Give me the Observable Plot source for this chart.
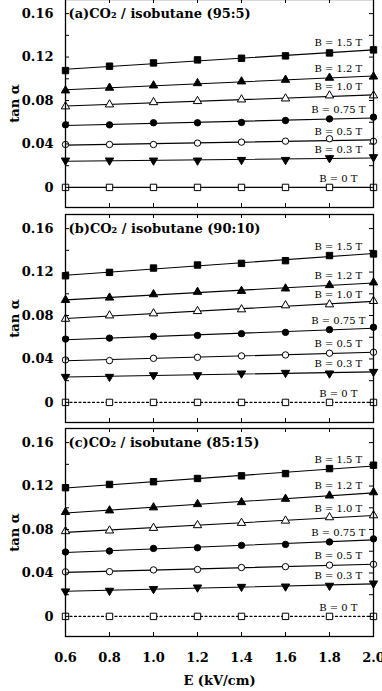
<!DOCTYPE html>
<html><head><meta charset="utf-8">
<script src="https://cdn.jsdelivr.net/npm/d3@7"></script>
<script src="https://cdn.jsdelivr.net/npm/@observablehq/plot@0.6"></script>
<style>
body{margin:0;background:#fff;}
#chart{position:relative;width:382px;height:691px;overflow:hidden;background:#fff;}
#chart svg{position:absolute;left:0;}
</style></head><body><div id="chart"></div>
<script>
// ---- data ----
const E = [0.6, 0.8, 1.0, 1.2, 1.4, 1.6, 1.8, 2.0];
const fieldLabels = ["B = 1.5 T", "B = 1.2 T", "B = 1.0 T", "B = 0.75 T", "B = 0.5 T", "B = 0.3 T", "B = 0 T"];
const panelTitles = ["(a)CO\u2082 / isobutane (95:5)", "(b)CO\u2082 / isobutane (90:10)", "(c)CO\u2082 / isobutane (85:15)"];
const xTickLabels = [0.6, 0.8, 1.0, 1.2, 1.4, 1.6, 1.8, 2.0];
const yTickLabels = [0, 0.04, 0.08, 0.12, 0.16];

// (a) 95:5
const a_B15  = [0.1076, 0.1116, 0.1146, 0.1174, 0.1189, 0.1211, 0.1238, 0.1266];
const a_B12  = [0.0892, 0.0917, 0.0938, 0.0959, 0.0975, 0.0990, 0.1009, 0.1020];
const a_B10  = [0.0745, 0.0763, 0.0784, 0.0794, 0.0809, 0.0818, 0.0846, 0.0846];
const a_B075 = [0.0576, 0.0576, 0.0595, 0.0595, 0.0598, 0.0616, 0.0631, 0.0647];
const a_B05  = [0.0395, 0.0395, 0.0395, 0.0408, 0.0417, 0.0426, 0.0448, 0.0425];
const a_B03  = [0.0248, 0.0248, 0.0248, 0.0248, 0.0254, 0.0254, 0.0270, 0.0279];
const a_B0   = [0, 0, 0, 0, 0, 0, 0, 0];
// (b) 90:10
const b_B15  = [0.1166, 0.1197, 0.1237, 0.1265, 0.1280, 0.1305, 0.1352, 0.1367];
const b_B12  = [0.0943, 0.0964, 0.0995, 0.1017, 0.1026, 0.1048, 0.1079, 0.1104];
const b_B10  = [0.0769, 0.0800, 0.0819, 0.0840, 0.0856, 0.0893, 0.0902, 0.0933];
const b_B075 = [0.0583, 0.0592, 0.0608, 0.0617, 0.0633, 0.0645, 0.0670, 0.0692];
const b_B05  = [0.0391, 0.0385, 0.0406, 0.0415, 0.0428, 0.0437, 0.0453, 0.0462];
const b_B03  = [0.0236, 0.0236, 0.0251, 0.0251, 0.0267, 0.0273, 0.0267, 0.0282];
const b_B0   = [0, 0, 0, 0, 0, 0, 0, 0];
// (c) 85:15
const c_B15  = [0.1185, 0.1215, 0.1240, 0.1270, 0.1294, 0.1315, 0.1361, 0.1392];
const c_B12  = [0.0960, 0.0975, 0.1003, 0.1033, 0.1051, 0.1082, 0.1112, 0.1142];
const c_B10  = [0.0784, 0.0790, 0.0814, 0.0839, 0.0860, 0.0881, 0.0912, 0.0930];
const c_B075 = [0.0593, 0.0602, 0.0626, 0.0632, 0.0654, 0.0663, 0.0686, 0.0714];
const c_B05  = [0.0410, 0.0412, 0.0428, 0.0432, 0.0450, 0.0458, 0.0472, 0.0480];
const c_B03  = [0.0231, 0.0237, 0.0253, 0.0267, 0.0273, 0.0276, 0.0283, 0.0304];
const c_B0   = [0, 0, 0, 0, 0, 0, 0, 0];

// ---- styling ----
const markerStyle = [
  {symbol: "square",   fill: true,  rotate: 0,   r: 3.6},
  {symbol: "triangle", fill: true,  rotate: 0,   r: 3.1},
  {symbol: "triangle", fill: false, rotate: 0,   r: 3.1},
  {symbol: "circle",   fill: true,  rotate: 0,   r: 3.2},
  {symbol: "circle",   fill: false, rotate: 0,   r: 3.2},
  {symbol: "triangle", fill: true,  rotate: 180, r: 3.1},
  {symbol: "square",   fill: false, rotate: 0,   r: 3.6}
];
const FONT = "DejaVu Serif";
const W = 382, ML = 65, MR = 9, MT = 6, INNER_H = 208;
const INNER_W = W - ML - MR;
const labelE = 1.84;
const yMinor = d3.range(0, 0.1601, 0.02);

function fit(vals) {
  const mx = d3.mean(E), my = d3.mean(vals);
  let sxy = 0, sxx = 0;
  E.forEach((x, i) => { sxy += (x - mx) * (vals[i] - my); sxx += (x - mx) ** 2; });
  const b = sxy / sxx;
  return {a: my - b * mx, b};
}

function panel(series, title, dashedZero, bottomAxis) {
  const marks = [];
  series.forEach((vals, i) => {
    const f = fit(vals);
    const fitRows = [E[0], E[E.length - 1]].map(x => ({E: x, t: f.a + f.b * x}));
    marks.push(Plot.line(fitRows, {x: "E", y: "t", stroke: "black", strokeWidth: 1.1,
      strokeDasharray: (dashedZero && i === series.length - 1) ? "2,2.5" : null}));
  });
  series.forEach((vals, i) => {
    const st = markerStyle[i];
    const rows = vals.map((v, j) => ({E: E[j], t: v}));
    marks.push(Plot.dot(rows, {x: "E", y: "t", symbol: st.symbol, r: st.r,
      rotate: st.rotate, fill: st.fill ? "black" : "white", stroke: "black", strokeWidth: 1}));
  });
  const labelRows = series.map((vals, i) => { const f = fit(vals); return {E: labelE, t: f.a + f.b * labelE, label: fieldLabels[i]}; });
  marks.push(Plot.text(labelRows, {x: "E", y: "t", text: "label", dy: -9, fontSize: 10, fontWeight: "normal", fill: "black", textAnchor: "middle"}));
  marks.push(Plot.text([title], {text: d => d, frameAnchor: "top-left", dx: 3, dy: 14, lineAnchor: "middle", fontSize: 13, fontWeight: "bold", textAnchor: "start"}));
  // inward ticks
  marks.push(Plot.tickX(xTickLabels, {x: d => d, insetTop: INNER_H - 4, stroke: "black"}));
  marks.push(Plot.tickX(xTickLabels, {x: d => d, insetBottom: INNER_H - 4, stroke: "black"}));
  marks.push(Plot.tickY(yMinor, {y: d => d, insetRight: INNER_W - 4, stroke: "black"}));
  marks.push(Plot.tickY(yMinor, {y: d => d, insetLeft: INNER_W - 4, stroke: "black"}));
  marks.push(Plot.frame({stroke: "black", strokeWidth: 1.3}));
  marks.push(Plot.axisY({ticks: yTickLabels, tickSize: 0, tickPadding: 12,
    tickFormat: d => d === 0 ? "0" : d.toFixed(2), fontSize: 13, fontWeight: "bold",
    label: "tan \u03b1", labelAnchor: "center", labelOffset: 56, labelArrow: "none"}));
  if (bottomAxis) {
    marks.push(Plot.axisX({ticks: xTickLabels, tickSize: 0, tickPadding: 16,
      tickFormat: d => d.toFixed(1), fontSize: 13, fontWeight: "bold",
      label: "E (kV/cm)", labelAnchor: "center", labelOffset: 48, labelArrow: "none"}));
  }
  const MB = bottomAxis ? 55 : 6;
  return Plot.plot({
    width: W, height: MT + INNER_H + MB,
    marginLeft: ML, marginRight: MR, marginTop: MT, marginBottom: MB,
    x: {domain: [0.6, 2.0], axis: bottomAxis ? undefined : null},
    y: {domain: [-0.0185, 0.173]},
    style: {fontFamily: FONT, fontSize: "13px", color: "black", background: "transparent", overflow: "visible"},
    marks
  });
}

const chart = document.getElementById("chart");
const specs = [
  {series: [a_B15, a_B12, a_B10, a_B075, a_B05, a_B03, a_B0], title: panelTitles[0], dashed: false, bottom: false, top: -7},
  {series: [b_B15, b_B12, b_B10, b_B075, b_B05, b_B03, b_B0], title: panelTitles[1], dashed: true, bottom: false, top: 208},
  {series: [c_B15, c_B12, c_B10, c_B075, c_B05, c_B03, c_B0], title: panelTitles[2], dashed: true, bottom: true, top: 422}
];
specs.forEach(s => {
  const svg = panel(s.series, s.title, s.dashed, s.bottom);
  svg.style.top = s.top + "px";
  chart.appendChild(svg);
});
</script></body></html>
